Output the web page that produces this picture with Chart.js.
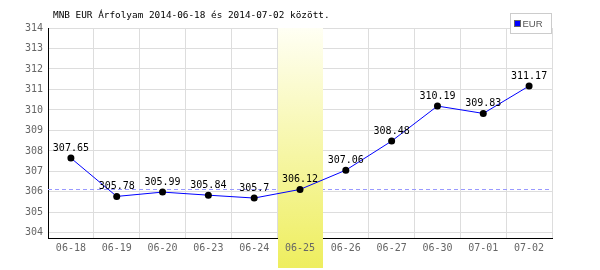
<!DOCTYPE html>
<html>
<head>
<meta charset="utf-8">
<script src="https://cdn.jsdelivr.net/npm/chart.js@4/dist/chart.umd.min.js"></script>
<style>
    html, body { margin: 0; padding: 0; background: #fff; }
    #wrap { width: 600px; height: 270px; }
</style>
</head>
<body>
<div id="wrap"><canvas id="rateChart" width="600" height="270"></canvas></div>
<script>
const categories = ['06-18', '06-19', '06-20', '06-23', '06-24', '06-25', '06-26', '06-27', '06-30', '07-01', '07-02'];
const eurRates = [307.65, 305.78, 305.99, 305.84, 305.7, 306.12, 307.06, 308.48, 310.19, 309.83, 311.17];
const seriesName = 'EUR';
const titleText = 'MNB EUR Árfolyam 2014-06-18 és 2014-07-02 között.';
const referenceRate = 306.12;
const highlightIndex = 5;
const yMin = 303.75;
const yMax = 314;

const monoFont = "'DejaVu Sans Mono', monospace";

// dashed reference line, then the highlighted day column over the grid
const bandPlugin = {
    id: 'band',
    beforeDatasetsDraw(chart) {
        const ctx = chart.ctx;
        const area = chart.chartArea;
        const x = chart.scales.x;
        const y = chart.scales.y;

        ctx.save();
        const ry = Math.round(y.getPixelForValue(referenceRate)) + 0.5;
        ctx.strokeStyle = '#9999ff';
        ctx.lineWidth = 1;
        ctx.setLineDash([4, 3]);
        ctx.beginPath();
        ctx.moveTo(area.left, ry);
        ctx.lineTo(area.right, ry);
        ctx.stroke();
        ctx.setLineDash([]);

        const half = (x.getPixelForValue(1) - x.getPixelForValue(0)) / 2;
        const cx = x.getPixelForValue(highlightIndex);
        const left = Math.round(cx - half) + 1;
        const right = Math.round(cx + half);
        const grad = ctx.createLinearGradient(0, area.top, 0, chart.height - 2);
        grad.addColorStop(0, '#fffff4');
        grad.addColorStop(1, '#eeee5e');
        ctx.fillStyle = grad;
        ctx.fillRect(left, area.top, right - left, chart.height - 2 - area.top);

        ctx.fillStyle = '#666';
        ctx.font = '10px ' + monoFont;
        ctx.textAlign = 'center';
        ctx.textBaseline = 'middle';
        ctx.fillText(categories[highlightIndex], cx, area.bottom + 10);
        ctx.restore();
    }
};

// value labels, title and legend box
const labelsPlugin = {
    id: 'valueLabels',
    afterDatasetsDraw(chart) {
        const ctx = chart.ctx;
        const meta = chart.getDatasetMeta(0);
        ctx.save();
        ctx.fillStyle = '#000';
        ctx.font = '10px ' + monoFont;
        ctx.textAlign = 'center';
        ctx.textBaseline = 'middle';
        meta.data.forEach((pt, i) => {
            ctx.fillText(String(eurRates[i]), pt.x, pt.y - 10);
        });

        ctx.font = '9.4px ' + monoFont;
        ctx.textAlign = 'left';
        ctx.fillText(titleText, 53, 16);

        const area = chart.chartArea;
        const bx = area.right - 41.5;
        ctx.fillStyle = '#fff';
        ctx.strokeStyle = '#cccccc';
        ctx.lineWidth = 1;
        ctx.fillRect(bx, 13.5, 41, 20);
        ctx.strokeRect(bx, 13.5, 41, 20);
        ctx.fillStyle = '#0000ff';
        ctx.strokeStyle = '#666';
        ctx.fillRect(bx + 4, 20.5, 6, 6);
        ctx.strokeRect(bx + 4, 20.5, 6, 6);
        ctx.fillStyle = '#555';
        ctx.font = "9.5px 'Liberation Sans', Arial, sans-serif";
        ctx.fillText(chart.data.datasets[0].label, bx + 12, 24);
        ctx.restore();
    }
};

function initializeChart() {
    const ctx = document.getElementById('rateChart').getContext('2d');
    window.rateChart = new Chart(ctx, {
        type: 'line',
        data: {
            labels: categories,
            datasets: [{
                label: seriesName,
                data: eurRates,
                borderColor: '#0000ff',
                borderWidth: 1,
                tension: 0,
                pointRadius: 3.5,
                pointHoverRadius: 3.5,
                pointBackgroundColor: '#000',
                pointBorderWidth: 0,
                fill: false
            }]
        },
        options: {
            responsive: false,
            animation: false,
            events: [],
            layout: {
                padding: { top: 28, right: 48, left: 0, bottom: 0 }
            },
            plugins: {
                legend: { display: false },
                tooltip: { enabled: false },
                title: { display: false }
            },
            scales: {
                x: {
                    offset: true,
                    grid: { color: '#dddddd', drawTicks: false, offset: true },
                    border: { color: '#000', width: 1 },
                    ticks: {
                        color: '#666',
                        font: { family: monoFont, size: 10 },
                        padding: 4,
                        maxRotation: 0,
                        autoSkip: false
                    },
                    afterFit(scale) { scale.height = 32; }
                },
                y: {
                    min: yMin,
                    max: yMax,
                    grid: { color: '#dddddd', drawTicks: false },
                    border: { color: '#000', width: 1 },
                    ticks: {
                        stepSize: 1,
                        includeBounds: false,
                        color: '#666',
                        font: { family: monoFont, size: 10 },
                        padding: 5
                    },
                    afterFit(scale) { scale.width = 48; }
                }
            }
        },
        plugins: [bandPlugin, labelsPlugin]
    });
}

document.addEventListener('DOMContentLoaded', initializeChart);
</script>
</body>
</html>
